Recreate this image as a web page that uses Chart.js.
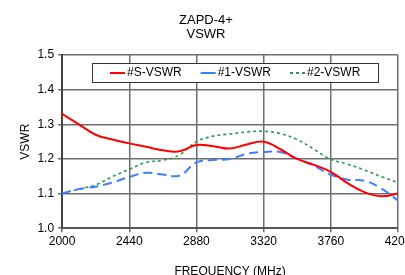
<!DOCTYPE html>
<html>
<head>
<meta charset="utf-8">
<script src="https://cdn.jsdelivr.net/npm/chart.js@4.4.1/dist/chart.umd.min.js"></script>
<style>
  html, body { margin: 0; padding: 0; background: #fff; overflow: hidden; }
  #wrap { position: absolute; left: 0; top: 0; width: 426px; height: 286px; }
</style>
</head>
<body>
<div id="wrap"><canvas id="chart" width="426" height="286"></canvas></div>
<script>
// frequency points (MHz)
const freqs = [2000, 2110, 2220, 2330, 2440, 2550, 2660, 2770, 2880, 2990, 3100,
               3210, 3320, 3430, 3540, 3650, 3760, 3870, 3980, 4090, 4200];

// VSWR readings
const vswrS = [1.33, 1.30, 1.27, 1.256, 1.245, 1.235, 1.225, 1.222, 1.24, 1.237, 1.23,
               1.242, 1.25, 1.228, 1.20, 1.183, 1.163, 1.13, 1.104, 1.092, 1.10];
const vswr1 = [1.10, 1.113, 1.12, 1.132, 1.148, 1.16, 1.155, 1.152, 1.19, 1.197, 1.20,
               1.215, 1.22, 1.22, 1.20, 1.18, 1.155, 1.14, 1.137, 1.115, 1.08];
const vswr2 = [1.10, 1.113, 1.125, 1.149, 1.17, 1.19, 1.196, 1.212, 1.25, 1.266, 1.272,
               1.278, 1.28, 1.273, 1.256, 1.228, 1.199, 1.185, 1.168, 1.149, 1.132];

const seriesNames = ['#S-VSWR', '#1-VSWR', '#2-VSWR'];
const xTicks = [2000, 2440, 2880, 3320, 3760, 4200];
const yTicks = [1.0, 1.1, 1.2, 1.3, 1.4, 1.5];

const FONT = "'Liberation Sans', Arial, sans-serif";
Chart.defaults.font.family = FONT;
Chart.defaults.color = '#000';

function pts(vals) {
    return vals.map((v, i) => ({ x: freqs[i], y: v }));
}

// boxed legend drawn inside the plot, one row
const boxLegend = {
    id: 'boxLegend',
    afterDraw(chart) {
        const ctx = chart.ctx;
        const area = chart.chartArea;
        const lineLen = 15, gap = 2, spacing = 19, padX = 18;
        ctx.save();
        ctx.font = '12px ' + FONT;
        const items = chart.data.datasets.map(ds => ({ ds, w: ctx.measureText(ds.label).width }));
        let total = 0;
        items.forEach(it => { total += lineLen + gap + it.w; });
        total += spacing * (items.length - 1);
        const boxW = total + padX * 2;
        const cx = (area.left + area.right) / 2 + 5;
        const left = Math.round(cx - boxW / 2);
        const top = Math.round(area.top + 8);
        const h = 19;
        ctx.fillStyle = '#fff';
        ctx.fillRect(left, top, boxW, h);
        ctx.strokeStyle = '#333';
        ctx.lineWidth = 1;
        ctx.strokeRect(left + 0.5, top + 0.5, Math.round(boxW), h);
        let x = left + padX;
        const y = top + h / 2 + 0.5;
        items.forEach((it, i) => {
            ctx.beginPath();
            ctx.strokeStyle = it.ds.borderColor;
            ctx.lineWidth = 2;
            ctx.setLineDash(i === 2 ? [3, 3] : []);
            ctx.moveTo(x, y);
            ctx.lineTo(x + lineLen, y);
            ctx.stroke();
            ctx.setLineDash([]);
            x += lineLen + gap;
            ctx.fillStyle = '#000';
            ctx.textBaseline = 'middle';
            ctx.fillText(it.ds.label, x, y);
            x += it.w + spacing;
        });
        ctx.restore();
    }
};

new Chart(document.getElementById('chart'), {
    type: 'line',
    data: {
        datasets: [
            { label: seriesNames[0], data: pts(vswrS), borderColor: '#ff0000', backgroundColor: '#ff0000',
              borderWidth: 2, pointRadius: 0, tension: 0.4 },
            { label: seriesNames[1], data: pts(vswr1), borderColor: '#3f7fff', backgroundColor: '#3f7fff',
              borderWidth: 2, borderDash: [9, 5], pointRadius: 0, tension: 0.4 },
            { label: seriesNames[2], data: pts(vswr2), borderColor: '#2e9659', backgroundColor: '#2e9659',
              borderWidth: 1.6, borderDash: [3, 3], pointRadius: 0, tension: 0.4 }
        ]
    },
    options: {
        responsive: false,
        animation: false,
        layout: { padding: { left: 14, right: 28, top: 13, bottom: 3 } },
        plugins: {
            title: {
                display: true,
                text: ['ZAPD-4+', 'VSWR'],
                font: { size: 13, weight: 'normal', lineHeight: 1.08 },
                color: '#000',
                padding: { top: 0, bottom: 14 }
            },
            legend: { display: false },
            tooltip: { enabled: false }
        },
        scales: {
            x: {
                type: 'linear',
                min: 2000,
                max: 4200,
                afterBuildTicks: axis => { axis.ticks = xTicks.map(v => ({ value: v })); },
                ticks: { font: { size: 12 }, color: '#000', padding: 2, maxRotation: 0,
                         callback: v => String(v) },
                grid: { color: '#6e6e6e', lineWidth: 1.5, tickLength: 4, drawTicks: true },
                border: { color: '#555', width: 2 },
                title: { display: true, text: 'FREQUENCY (MHz)', font: { size: 12 }, color: '#000', padding: { top: 14 } }
            },
            y: {
                min: 1.0,
                max: 1.5,
                afterBuildTicks: axis => { axis.ticks = yTicks.map(v => ({ value: v })); },
                ticks: { font: { size: 12 }, color: '#000', padding: 4, callback: v => v.toFixed(1) },
                grid: { color: '#6e6e6e', lineWidth: 1.5, tickLength: 4 },
                border: { color: '#444', width: 2 },
                title: { display: true, text: 'VSWR', font: { size: 12 }, color: '#000', padding: { bottom: 1 } }
            }
        }
    },
    plugins: [boxLegend]
});
</script>
</body>
</html>
